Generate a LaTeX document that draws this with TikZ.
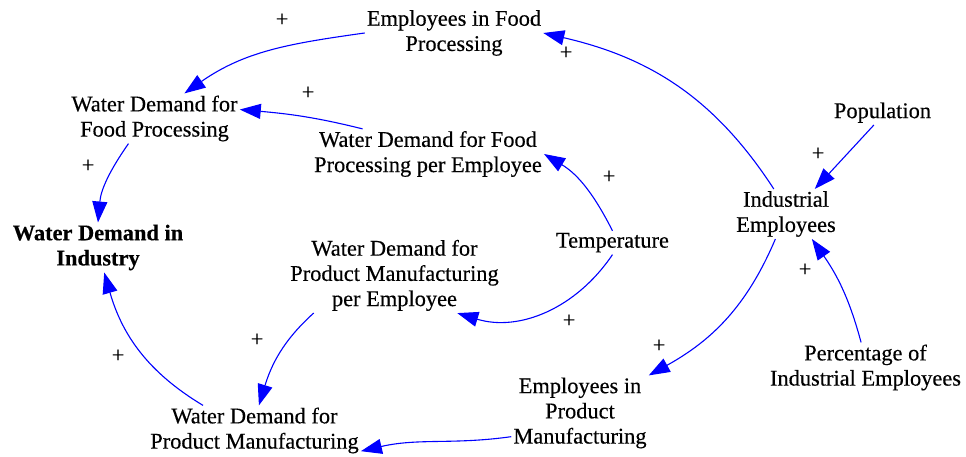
\documentclass[tikz,border=0pt]{standalone}
\usepackage{fontspec}
\setmainfont{Liberation Serif}[FakeBold=0.35]
\newfontfamily\heavyserif{Liberation Serif}[FakeBold=0.35]
\usetikzlibrary{arrows.meta}
\definecolor{arrblue}{RGB}{0,0,255}
\begin{document}
\begin{tikzpicture}[x=1pt,y=1pt,
  var/.style={align=center, inner sep=2pt, font=\fontsize{22.4}{25.2}\selectfont\heavyserif},
  pl/.style={inner sep=0pt, font=\fontsize{22.4}{25.2}\selectfont},
  link/.style={draw=arrblue, line width=1.1pt, -{Triangle[length=21pt,width=15pt]}}]
\useasboundingbox (0,0) rectangle (966,457);

% variables
\node[var] (efp)    at (454,424)   {Employees in Food\\Processing};
\node[var] (wdfp)   at (154.5,338.5) {Water Demand for\\Food Processing};
\node[var] (wdfppe) at (428,303)   {Water Demand for Food\\Processing per Employee};
\node[var, font=\fontsize{22.4}{25.2}\selectfont\bfseries] (wdi) at (98,209.5) {Water Demand in\\Industry};
\node[var] (wdpmpe) at (394.5,181.6) {Water Demand for\\Product Manufacturing\\per Employee};
\node[var] (temp)   at (612.5,214.3) {Temperature};
\node[var] (ie)     at (786,243)   {Industrial\\Employees};
\node[var] (pop)    at (882.5,344.3) {Population};
\node[var] (pct)    at (865.5,89.5) {Percentage of\\Industrial Employees};
\node[var] (epm)    at (580,44)    {Employees in\\Product\\Manufacturing};
\node[var] (wdpm)   at (254.5,26.5) {Water Demand for\\Product Manufacturing};

% links
\draw[link] (efp.west) to[out=188,in=35] (wdfp.40);
\draw[link] (wdfppe.159) to[out=166,in=-5] (wdfp.6);
\draw[link] (wdfp.224) to[out=235,in=85] (wdi.north);
\draw[link] (wdpm.154) to[out=149,in=-74] (wdi.-76);
\draw[link] (wdpmpe.205) to[out=222,in=73] (wdpm.80);
\draw[link] (epm.199) to[out=188,in=13] (wdpm.-11);
\draw[link] (temp.north) to[out=117,in=-31] (wdfppe.east);
\draw[link] (temp.south) to[out=236,in=-17] (wdpmpe.-31.5);
\draw[link] (ie.116) to[out=123,in=-13] (efp.east);
\draw[link] (ie.-113) to[out=247,in=29] (epm.north east);
\draw[link] (pop.-125) -- (ie.41);
\draw[link] (pct.100) to[out=105,in=-55] (ie.-44);

% polarities
\node[pl] (p1)  at (282,437) {+};
\node[pl] (p2)  at (308,364) {+};
\node[pl] (p3)  at (88,291)  {+};
\node[pl] (p4)  at (118,101) {+};
\node[pl] (p5)  at (257,117) {+};
\node[pl] (p6)  at (566,404) {+};
\node[pl] (p7)  at (609,280) {+};
\node[pl] (p8)  at (569,136) {+};
\node[pl] (p9)  at (659,111) {+};
\node[pl] (p10) at (818,303) {+};
\node[pl] (p11) at (805,187) {+};
\end{tikzpicture}
\end{document}
